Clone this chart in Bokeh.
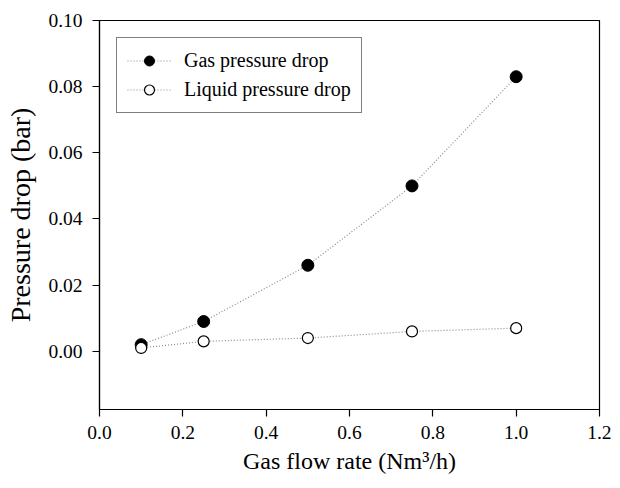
from bokeh.plotting import figure
from bokeh.models import FixedTicker, NumeralTickFormatter, Range1d, Legend, LegendItem
from bokeh.embed import file_html
from bokeh.resources import INLINE

flow_rate = [0.1, 0.25, 0.5, 0.75, 1.0]
gas_dp = [0.002, 0.009, 0.026, 0.050, 0.083]
liquid_dp = [0.001, 0.003, 0.004, 0.006, 0.007]
x_ticks = [0.0, 0.2, 0.4, 0.6, 0.8, 1.0, 1.2]
y_ticks = [0.0, 0.02, 0.04, 0.06, 0.08, 0.10]

FONT = "Liberation Serif"

p = figure(width=611, height=480, output_backend="svg", toolbar_location=None,
           x_range=Range1d(0.0, 1.2), y_range=Range1d(-0.0176, 0.10),
           min_border_left=99, min_border_right=12, min_border_top=20, min_border_bottom=71)
p.background_fill_color = "white"
p.border_fill_color = "white"
p.outline_line_color = "black"
p.outline_line_width = 1.2
p.xgrid.visible = False
p.ygrid.visible = False

for ax in (p.xaxis[0], p.yaxis[0]):
    ax.axis_line_color = "black"
    ax.axis_line_width = 1.2
    ax.major_tick_line_color = "black"
    ax.major_tick_line_width = 1.2
    ax.major_tick_out = 7
    ax.major_tick_in = 0
    ax.minor_tick_line_color = None
    ax.major_label_text_font = FONT
    ax.major_label_text_font_size = "19.5px"
    ax.major_label_text_color = "black"
    ax.axis_label_text_font = FONT
    ax.axis_label_text_font_style = "normal"
    ax.axis_label_text_color = "black"

p.xaxis.axis_label_text_font_size = "24px"
p.yaxis.axis_label_text_font_size = "28px"
p.xaxis.ticker = FixedTicker(ticks=x_ticks)
p.yaxis.ticker = FixedTicker(ticks=y_ticks)
p.xaxis.formatter = NumeralTickFormatter(format="0.0")
p.yaxis.formatter = NumeralTickFormatter(format="0.00")
p.xaxis.axis_label = "Gas flow rate (Nm\u00b3/h)"
p.yaxis.axis_label = "Pressure drop (bar)"
p.xaxis.major_label_standoff = 9
p.yaxis.major_label_standoff = 10
p.xaxis.axis_label_standoff = 6
p.yaxis.axis_label_standoff = 9

gl = p.line(flow_rate, gas_dp, line_color="#8a8a8a", line_dash="1 2", line_width=1.2)
gm = p.scatter(flow_rate, gas_dp, marker="circle", size=12, fill_color="black", line_color="black")
ll = p.line(flow_rate, liquid_dp, line_color="#8a8a8a", line_dash="1 2", line_width=1.2)
lm = p.scatter(flow_rate, liquid_dp, marker="circle", size=11, fill_color="white", line_color="black", line_width=1.2)

legend = Legend(items=[
    LegendItem(label="Gas pressure drop", renderers=[gl, gm]),
    LegendItem(label="Liquid pressure drop", renderers=[ll, lm]),
], location="top_left")
legend.margin = 17
legend.padding = 10
legend.spacing = 4
legend.glyph_width = 44
legend.glyph_height = 25
legend.label_standoff = 13
legend.label_text_font = FONT
legend.label_text_font_size = "20px"
legend.label_text_color = "black"
legend.border_line_color = "black"
legend.border_line_width = 1.2
legend.background_fill_alpha = 1.0
p.add_layout(legend, "center")

open("out.html", "w").write(file_html(p, INLINE))
